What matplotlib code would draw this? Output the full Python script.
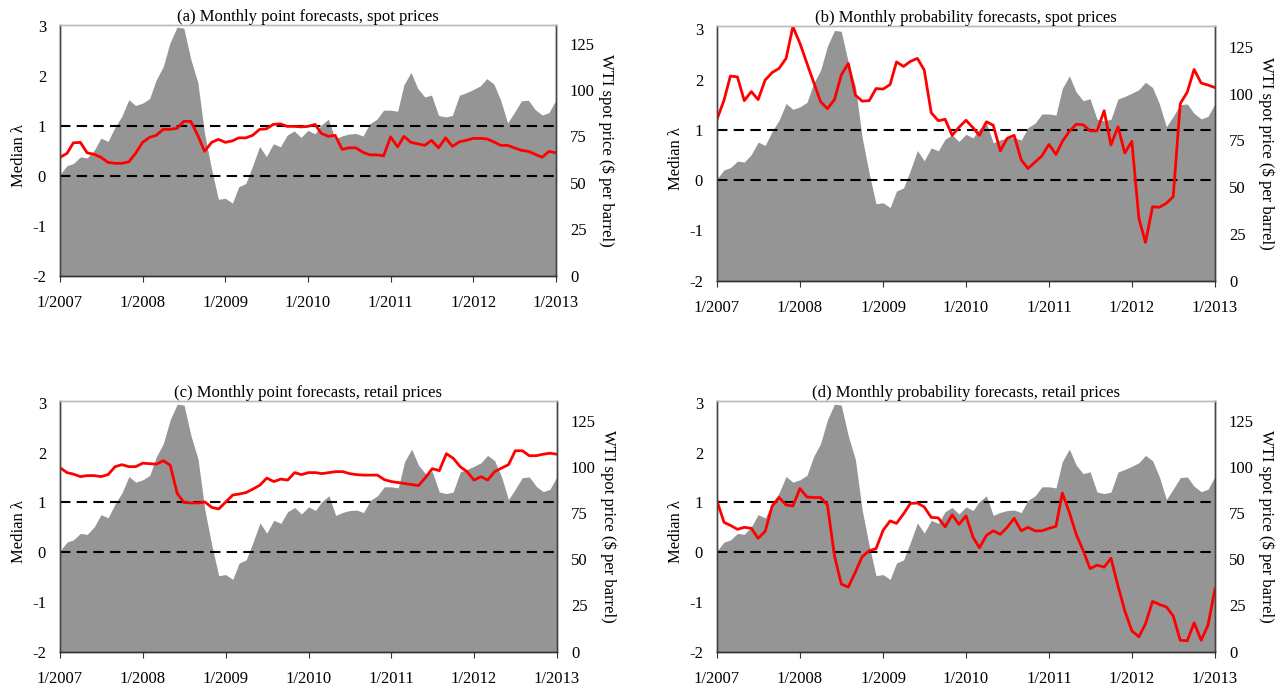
import matplotlib
matplotlib.use("Agg")
import matplotlib.pyplot as plt
import pandas as pd

plt.rcParams['font.family'] = ['Liberation Serif', 'DejaVu Serif']
plt.rcParams['axes.unicode_minus'] = False

# Monthly dates 1/2007 .. 1/2013
dates = pd.date_range("2007-01-01", "2013-01-01", freq="MS")

# WTI spot price ($ per barrel), monthly average
wti = [54.51, 59.28, 60.44, 63.98, 63.46, 67.49, 74.12, 72.36, 79.92, 85.80, 94.77, 91.69,
       92.97, 95.39, 105.45, 112.58, 125.40, 133.88, 133.37, 116.67, 104.11, 76.61, 57.31, 41.12,
       41.71, 39.09, 47.94, 49.65, 59.03, 69.64, 64.15, 71.05, 69.41, 75.72, 77.99, 74.47,
       78.33, 76.39, 81.20, 84.29, 73.74, 75.34, 76.32, 76.60, 75.24, 81.89, 84.25, 89.15,
       89.17, 88.58, 102.86, 109.53, 100.90, 96.26, 97.30, 86.33, 85.52, 86.32, 97.16, 98.56,
       100.27, 102.20, 106.16, 103.32, 94.66, 82.30, 87.90, 94.13, 94.51, 89.49, 86.53, 87.86,
       94.76]

# Median lambda series
lam_a = [0.37, 0.45, 0.66, 0.67, 0.46, 0.43, 0.37, 0.27, 0.25, 0.25, 0.28, 0.45,
         0.67, 0.77, 0.81, 0.93, 0.93, 0.95, 1.09, 1.09, 0.81, 0.49, 0.67, 0.73,
         0.67, 0.70, 0.76, 0.76, 0.81, 0.93, 0.94, 1.03, 1.04, 0.99, 0.99, 0.98,
         0.99, 1.03, 0.85, 0.79, 0.81, 0.53, 0.56, 0.56, 0.47, 0.42, 0.42, 0.40,
         0.78, 0.58, 0.79, 0.67, 0.64, 0.61, 0.71, 0.56, 0.76, 0.59, 0.68, 0.71,
         0.75, 0.75, 0.74, 0.68, 0.61, 0.61, 0.56, 0.51, 0.49, 0.43, 0.37, 0.49,
         0.46]
lam_b = [1.21, 1.59, 2.07, 2.05, 1.58, 1.76, 1.60, 1.99, 2.14, 2.22, 2.42, 3.05,
         2.72, 2.32, 1.95, 1.56, 1.42, 1.60, 2.09, 2.32, 1.69, 1.57, 1.58, 1.82,
         1.81, 1.90, 2.35, 2.26, 2.36, 2.42, 2.19, 1.34, 1.18, 1.21, 0.89, 1.05,
         1.19, 1.04, 0.89, 1.16, 1.09, 0.58, 0.83, 0.89, 0.40, 0.23, 0.36, 0.48,
         0.71, 0.51, 0.77, 0.97, 1.11, 1.10, 0.98, 0.98, 1.38, 0.70, 1.06, 0.54,
         0.77, -0.76, -1.24, -0.53, -0.54, -0.46, -0.33, 1.52, 1.75, 2.20, 1.93, 1.89,
         1.84]
lam_c = [1.70, 1.60, 1.57, 1.52, 1.54, 1.54, 1.52, 1.56, 1.72, 1.76, 1.72, 1.72,
         1.79, 1.78, 1.77, 1.84, 1.75, 1.18, 1.00, 0.99, 0.99, 1.01, 0.90, 0.87,
         1.01, 1.15, 1.17, 1.20, 1.27, 1.35, 1.49, 1.42, 1.47, 1.45, 1.60, 1.56,
         1.60, 1.60, 1.58, 1.60, 1.62, 1.62, 1.58, 1.56, 1.55, 1.55, 1.55, 1.46,
         1.42, 1.40, 1.38, 1.36, 1.34, 1.50, 1.68, 1.64, 1.98, 1.89, 1.72, 1.62,
         1.45, 1.52, 1.45, 1.62, 1.69, 1.76, 2.04, 2.04, 1.94, 1.94, 1.97, 1.99,
         1.97]
lam_d = [1.03, 0.60, 0.54, 0.46, 0.50, 0.48, 0.28, 0.42, 0.93, 1.10, 0.95, 0.93,
         1.28, 1.11, 1.10, 1.10, 0.95, -0.07, -0.64, -0.70, -0.40, -0.09, 0.03, 0.07,
         0.44, 0.63, 0.58, 0.77, 0.98, 0.99, 0.91, 0.70, 0.69, 0.51, 0.75, 0.56,
         0.73, 0.30, 0.09, 0.34, 0.43, 0.36, 0.50, 0.68, 0.43, 0.50, 0.43, 0.43,
         0.48, 0.52, 1.19, 0.80, 0.36, 0.03, -0.33, -0.26, -0.30, -0.12, -0.68, -1.18,
         -1.58, -1.70, -1.44, -0.99, -1.05, -1.10, -1.28, -1.77, -1.78, -1.42, -1.77, -1.47,
         -0.74]

titles = ["(a) Monthly point forecasts, spot prices",
          "(b) Monthly probability forecasts, spot prices",
          "(c) Monthly point forecasts, retail prices",
          "(d) Monthly probability forecasts, retail prices"]
series = [lam_a, lam_b, lam_c, lam_d]
year_ticks = pd.date_range("2007-01-01", "2013-01-01", freq="YS")
year_labels = ["1/%d" % d.year for d in year_ticks]
lam_ticks = [-2, -1, 0, 1, 2, 3]
price_ticks = [0, 25, 50, 75, 100, 125]

W, H = 1282, 691
# pixel boxes: left, right, top, bottom ; and top of left axis
boxes = [(60, 556, 25, 275.7, 3.02),
         (717, 1215, 25.7, 280.7, 3.07),
         (60, 557, 401, 651.7, 3.04),
         (717, 1215, 401, 651.7, 3.04)]
R = 134.5  # price corresponding to lambda = 3

fig = plt.figure(figsize=(W / 100, H / 100), dpi=100)
fs = 12
grey = '#959595'
for k in range(4):
    l, r, t, b, ytop = boxes[k]
    w = r - l
    ax = fig.add_axes([l / W, 1 - b / H, w / W, (b - t) / H])
    ax2 = ax.twinx()
    ax2.fill_between(dates, 0, wti, color=grey, linewidth=0)
    ax2.set_ylim(0, R * (ytop + 2) / 5)
    ax2.set_yticks(price_ticks)
    ax2.tick_params(axis='y', length=0, pad=10, labelsize=fs)
    ax2.set_ylabel("WTI spot price ($ per barrel)", rotation=270, fontsize=fs)
    ax2.yaxis.set_label_coords(1 + 59.0 / w, 0.5)

    ax.set_zorder(ax2.get_zorder() + 1)
    ax.patch.set_visible(False)
    ax.axhline(1, color='black', lw=1.5, dashes=(5, 3))
    ax.axhline(0, color='black', lw=1.5, dashes=(5, 3))
    ax.plot(dates, series[k], color='#ff0000', lw=2)
    ax.set_ylim(-2, ytop)
    ax.set_yticks(lam_ticks)
    ax.set_yticklabels([str(v) for v in lam_ticks])
    ax.set_xlim(dates[0], dates[-1])
    ax.set_xticks(year_ticks)
    ax.set_xticklabels(year_labels)
    ax.tick_params(axis='x', direction='out', length=4, width=0.8, pad=10, labelsize=fs, color='#333333')
    ax.tick_params(axis='y', length=0, pad=10, labelsize=fs)
    ax.set_ylabel("Median λ", fontsize=fs)
    ax.yaxis.set_label_coords(-33.0 / w, 0.48)
    ax.set_title(titles[k], fontsize=fs, pad=3)
    for a in (ax, ax2):
        a.spines['top'].set_color('#bbbbbb')
        a.spines['left'].set_color('#444444')
        a.spines['right'].set_color('#444444')
        a.spines['bottom'].set_color('#333333')
        for s in a.spines.values():
            s.set_linewidth(1.0)

fig.savefig("out.png", dpi=100)
